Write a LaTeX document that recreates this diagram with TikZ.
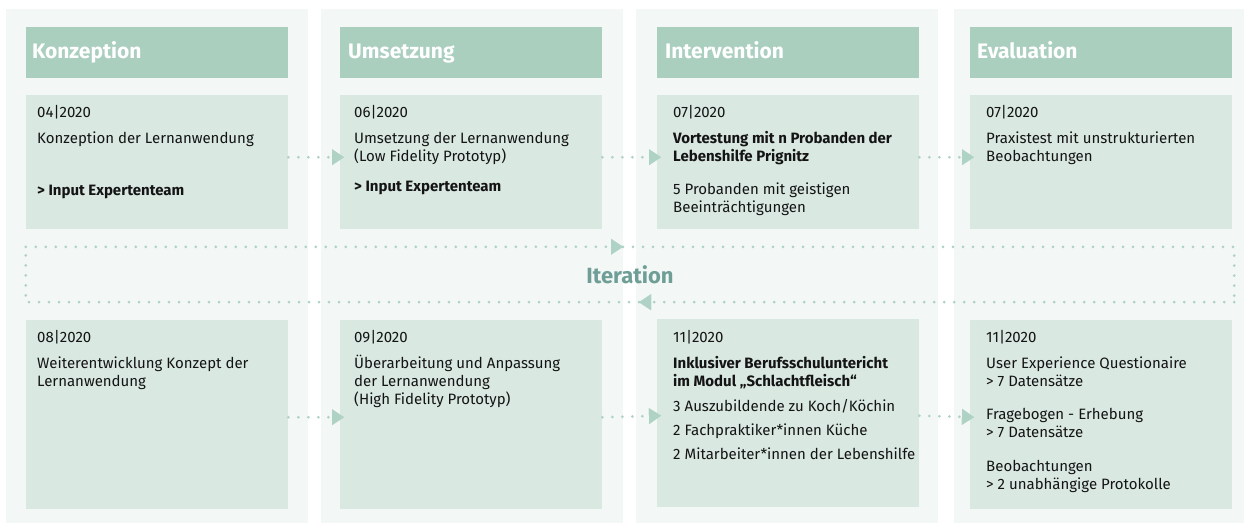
\documentclass[tikz,border=0pt]{standalone}
\usepackage{fontspec}
\setmainfont{Fira Sans}
\usetikzlibrary{arrows.meta,positioning}

\definecolor{colbg}{HTML}{F3F7F6}
\definecolor{headfill}{HTML}{AACFBF}
\definecolor{cardfill}{HTML}{D9E8E1}
\definecolor{dotcol}{HTML}{AED2C3}
\definecolor{itercol}{HTML}{6E9E96}
\definecolor{txt}{HTML}{141414}

\tikzset{
  column/.style={fill=colbg, minimum width=302pt, minimum height=514pt, inner sep=0pt, anchor=north west},
  phase/.style={fill=headfill, text=white, font=\fontsize{21}{24}\selectfont\bfseries, minimum width=262pt, minimum height=51pt, text width=#1, text height=15pt, text depth=4pt, inner sep=0pt, align=left, anchor=north west},
  phase/.default=250pt,
  card/.style={fill=cardfill, minimum width=262pt, minimum height=134pt, inner sep=0pt, anchor=north west},
  cardtext/.style={anchor=north west, inner sep=0pt, align=left, text=txt, font=\fontsize{15}{18}\selectfont, execute at begin node=\strut},
  dotline/.style={dotcol, line width=3pt, line cap=round, dash pattern=on 0pt off 10pt},
  flow/.style={dotline, -{Triangle[length=12pt,width=16pt,line width=0.01pt]}},
}

\begin{document}
\begin{tikzpicture}[x=1pt,y=-1pt]
  \useasboundingbox (0,0) rectangle (1244,523);

  % columns
  \node[column] (c1) at (6,9) {};
  \node[column] (c2) at (321,9) {};
  \node[column] (c3) at (636,9) {};
  \node[column, minimum width=290pt] (c4) at (954,9) {};

  % phase headers
  \node[phase] (konz) at (26,27) {Konzeption};
  \node[phase=246pt] (umse) at (340,27) {Umsetzung};
  \node[phase=246pt] (inte) at (657,27) {Intervention};
  \node[phase=248pt] (eval) at (970,27) {Evaluation};

  % first round
  \node[card] (b1) at (26,95) {};
  \node[card] (b2) at (340,95) {};
  \node[card] (b3) at (657,95) {};
  \node[card] (b4) at (970,95) {};

  \node[cardtext] (t1) at ([xshift=11pt,yshift=-10.4pt]b1.north west)
    {04|2020\\[8pt] Konzeption der Lernanwendung\\[34pt] \textbf{> Input Expertenteam}};
  \node[cardtext] (t2) at ([xshift=14pt,yshift=-10.4pt]b2.north west)
    {06|2020\\[8pt] Umsetzung der Lernanwendung\\ (Low Fidelity Prototyp)\\[12pt] \textbf{> Input Expertenteam}};
  \node[cardtext] (t3) at ([xshift=16pt,yshift=-10.4pt]b3.north west)
    {07|2020\\[8pt] \textbf{Vortestung mit n Probanden der}\\ \textbf{Lebenshilfe Prignitz}\\[15pt] 5 Probanden mit geistigen\\ Beeinträchtigungen};
  \node[cardtext] (t4) at ([xshift=16pt,yshift=-10.4pt]b4.north west)
    {07|2020\\[8pt] Praxistest mit unstrukturierten\\ Beobachtungen};

  \draw[flow] ([yshift=5pt]b1.east) -- ([yshift=5pt,xshift=4pt]b2.west);
  \draw[flow] ([yshift=5pt]b2.east) -- ([yshift=5pt,xshift=4pt]b3.west);
  \draw[flow] ([yshift=5pt]b3.east) -- ([yshift=5pt,xshift=4pt]b4.west);

  % iteration loop
  \node[text=itercol, font=\fontsize{22}{24}\selectfont\bfseries, minimum width=1208pt, minimum height=55pt, inner sep=0pt] (iter) at (630,274.5) {Iteration};
  \draw[flow] (iter.north west) -- ([xshift=-7pt]iter.north);
  \draw[dotline] ([xshift=-7pt]iter.north) -- (iter.north east) -- (iter.south east);
  \draw[flow] (iter.south east) -- ([xshift=9pt]iter.south);
  \draw[dotline] ([xshift=9pt]iter.south) -- (iter.south west) -- (iter.north west);

  % second round
  \node[card, minimum height=189pt] (b5) at (26,320) {};
  \node[card, minimum height=189pt] (b6) at (340,320) {};
  \node[card, minimum height=188pt] (b7) at (657,319) {};
  \node[card, minimum height=189pt] (b8) at (970,320) {};

  \node[cardtext] (t5) at ([xshift=11pt,yshift=-10.4pt]b5.north west)
    {08|2020\\[8pt] Weiterentwicklung Konzept der\\ Lernanwendung};
  \node[cardtext] (t6) at ([xshift=14pt,yshift=-10.4pt]b6.north west)
    {09|2020\\[8pt] Überarbeitung und Anpassung\\ der Lernanwendung\\ (High Fidelity Prototyp)};
  \node[cardtext] (t7) at ([xshift=16pt,yshift=-11.4pt]b7.north west)
    {11|2020\\[8pt] \textbf{Inklusiver Berufsschuluntericht}\\ \textbf{im Modul „Schlachtfleisch“}\\[7pt] 3 Auszubildende zu Koch/Köchin\\[6pt] 2 Fachpraktiker*innen Küche\\[6pt] 2 Mitarbeiter*innen der Lebenshilfe};
  \node[cardtext] (t8) at ([xshift=16pt,yshift=-10.4pt]b8.north west)
    {11|2020\\[8pt] User Experience Questionaire\\ > 7 Datensätze\\[15pt] Fragebogen - Erhebung\\ > 7 Datensätze\\[16pt] Beobachtungen\\ > 2 unabhängige Protokolle};

  \draw[flow] ([yshift=-2.5pt]b5.east) -- ([yshift=-2.5pt,xshift=4pt]b6.west);
  \draw[flow] ([yshift=-2.5pt]b6.east) -- ([yshift=-2.5pt,xshift=4pt]b7.west);
  \draw[flow] ([yshift=-2.5pt]b7.east) -- ([yshift=-2.5pt,xshift=4pt]b8.west);
\end{tikzpicture}
\end{document}
